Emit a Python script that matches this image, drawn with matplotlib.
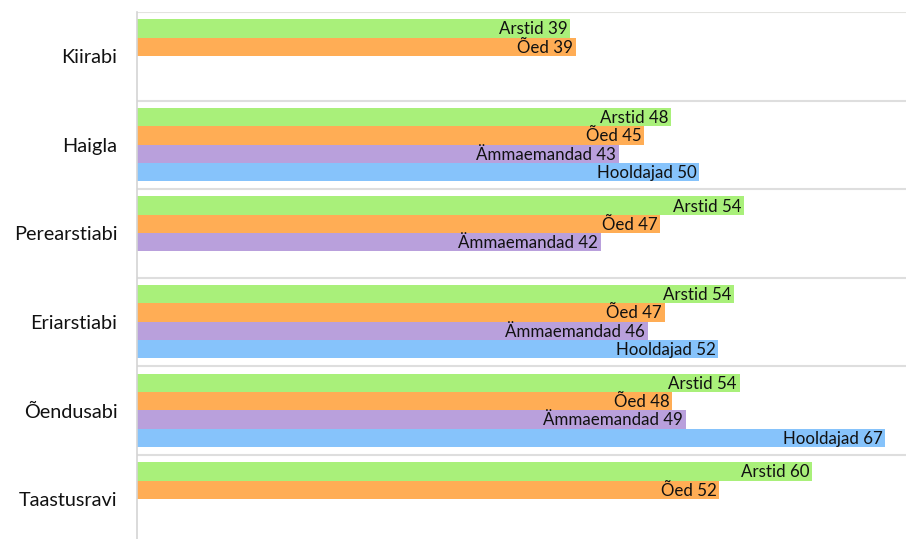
import matplotlib.pyplot as plt

categories = ["Kiirabi", "Haigla", "Perearstiabi", "Eriarstiabi", "Õendusabi", "Taastusravi"]
series = ["Arstid", "Õed", "Ämmaemandad", "Hooldajad"]
colors = ["#a9f07a", "#ffad55", "#b9a0dc", "#86c3fb"]

# bar lengths (None = no bar in that group)
arstid = [38.7, 47.7, 54.2, 53.3, 53.8, 60.3]
oed = [39.2, 45.3, 46.7, 47.1, 47.8, 52.0]
ammaemandad = [None, 43.0, 41.4, 45.6, 49.0, None]
hooldajad = [None, 50.2, None, 51.9, 66.8, None]
values = [arstid, oed, ammaemandad, hooldajad]

# numbers printed in the bar labels
arstid_lbl = [39, 48, 54, 54, 54, 60]
oed_lbl = [39, 45, 47, 47, 48, 52]
ammaemandad_lbl = [None, 43, 42, 46, 49, None]
hooldajad_lbl = [None, 50, None, 52, 67, None]
labels = [arstid_lbl, oed_lbl, ammaemandad_lbl, hooldajad_lbl]

plt.rcParams['font.family'] = ['Lato', 'DejaVu Sans']

fig = plt.figure(figsize=(9.06, 5.39), dpi=100)
# axes from x=137 to 906 px, y from 12 px down past the image bottom
ax = fig.add_axes([137 / 906, (539 - 543.6) / 539, 769 / 906, 531.6 / 539])

bar_h = 0.207
top_gap = 0.082
for j, (name, vals, lbls, c) in enumerate(zip(series, values, labels, colors)):
    for i, (v, n) in enumerate(zip(vals, lbls)):
        if v is None:
            continue
        y = i + top_gap + bar_h * (j + 0.5)
        ax.barh(y, v, height=bar_h, color=c, edgecolor="none", zorder=2)
        ax.text(v - 0.25, y + 0.01, f"{name} {n}", ha="right", va="center",
                fontsize=12.2, color="#111111", zorder=3)

ax.set_xlim(0, 769 / 11.2)
ax.set_ylim(6, 0)
for k in range(6):
    ax.axhline(k, color="#e3e3e0" if k == 0 else "#dedede", lw=1.5, zorder=1)

ax.set_yticks([i + 0.5 for i in range(6)])
ax.set_yticklabels(categories, fontsize=14.3, color="#111111")
ax.tick_params(axis="y", length=0, pad=14)
ax.set_xticks([])
for s in ["top", "right", "bottom"]:
    ax.spines[s].set_visible(False)
ax.spines["left"].set_color("#d4d4d4")
ax.spines["left"].set_linewidth(1.2)

fig.savefig("out.png", dpi=100)
